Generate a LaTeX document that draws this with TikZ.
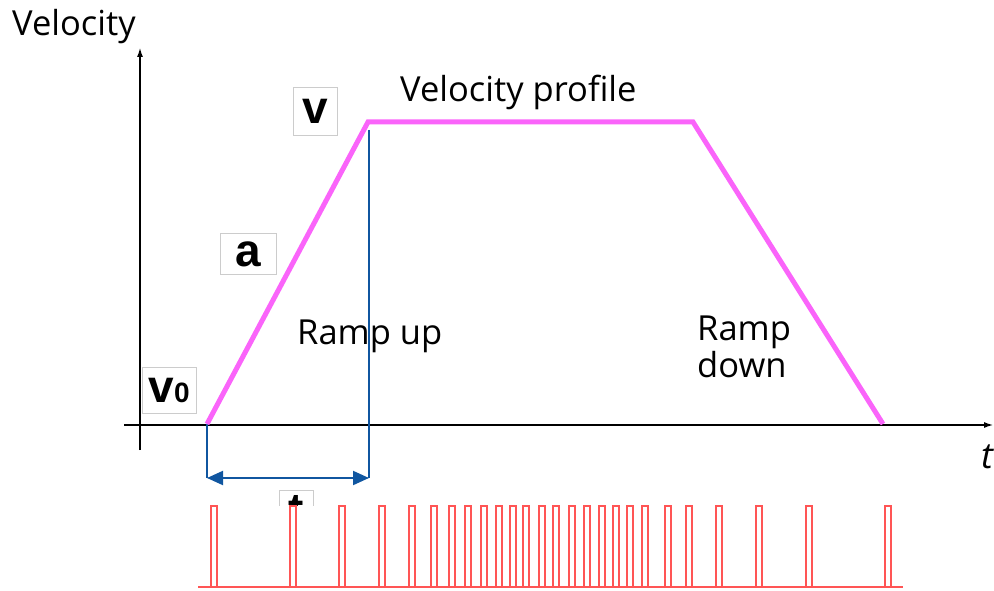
\documentclass[tikz,border=0pt]{standalone}
\usepackage{fontspec}
\setmainfont{Open Sans}
\newfontfamily\boxfont{Liberation Sans}
\usetikzlibrary{arrows.meta,positioning}
\definecolor{profilecolor}{RGB}{250,100,250}
\definecolor{rampblue}{RGB}{16,86,160}
\definecolor{pulsered}{RGB}{255,85,85}
\tikzset{
  axisline/.style={line width=2pt,-{Latex[length=10pt,width=6pt]}},
  valbox/.style={draw=black!20,fill=white,line width=0.8pt,inner sep=0pt,font=\boxfont\bfseries\fontsize{46}{46}\selectfont},
  lbl/.style={font=\fontsize{34.5}{34.5}\selectfont,inner sep=0pt,anchor=base west},
  pulse/.style={pulsered,line width=1.5pt},
}

\begin{document}
\begin{tikzpicture}[x=1pt,y=-1pt]
\useasboundingbox (0,0) rectangle (994,591);

\coordinate (ybottom) at (140,450);
\coordinate (ytop) at (140,47);
\coordinate (xleft) at (124,425);
\coordinate (xright) at (994,425);
\draw[axisline] (ybottom) -- (ytop);
\draw[axisline] (xleft) -- (xright);

\coordinate (upstart) at (207,424);
\coordinate (upend) at (368,122);
\coordinate (downstart) at (693,122);
\coordinate (downend) at (883,424);
\coordinate (upmark) at (369,130);
\coordinate (arrowleft) at (207,478);
\coordinate (arrowright) at (369,478);

\draw[rampblue,line width=1.3pt] (upmark) -- (arrowright);
\draw[rampblue,line width=2pt] (upstart) -- (arrowleft);
\draw[rampblue,line width=2pt,{Triangle[length=16pt,width=14pt]}-{Triangle[length=16pt,width=14pt]}] (arrowleft) -- (arrowright);
\draw[profilecolor,line width=5pt] (upstart) -- (upend) -- (downstart) -- (downend);

\node[lbl] (velocity) at (12,36) {Velocity};
\node[lbl] (profile) at (400,102) {Velocity profile};
\node[lbl] (rampup) at (297,344) {Ramp up};
\node[lbl,align=left] (rampdown) at (697,377) {Ramp\\[2pt]down};
\node[lbl,font=\fontsize{36}{36}\selectfont\itshape] (taxis) at (981,468) {t};

\node[valbox,minimum width=44pt,minimum height=48pt] (vbox) at (315,111) {v};
\node[valbox,minimum width=56pt,minimum height=41pt] (abox) at (248,254) {a};
\node[valbox,minimum width=54pt,minimum height=46pt] (vzero) at (169,390) {v{\fontsize{28}{28}\selectfont 0}};
\begin{scope}
\clip (270,480) rectangle (320,505);
\node[valbox,minimum width=34pt,minimum height=40pt,anchor=north] (tbox) at (296,490) {t};
\end{scope}

\draw[pulse] (198,587) -- (903,587);
\draw[pulse] (211,587) -- (211,506) -- (217,506) -- (217,587);
\draw[pulse] (290,587) -- (290,506) -- (296,506) -- (296,587);
\draw[pulse] (339,587) -- (339,506) -- (345,506) -- (345,587);
\draw[pulse] (379,587) -- (379,506) -- (385,506) -- (385,587);
\draw[pulse] (409,587) -- (409,506) -- (415,506) -- (415,587);
\draw[pulse] (431,587) -- (431,506) -- (437,506) -- (437,587);
\draw[pulse] (449,587) -- (449,506) -- (455,506) -- (455,587);
\draw[pulse] (465,587) -- (465,506) -- (471,506) -- (471,587);
\draw[pulse] (481,587) -- (481,506) -- (487,506) -- (487,587);
\draw[pulse] (496,587) -- (496,506) -- (502,506) -- (502,587);
\draw[pulse] (510,587) -- (510,506) -- (516,506) -- (516,587);
\draw[pulse] (523,587) -- (523,506) -- (529,506) -- (529,587);
\draw[pulse] (539,587) -- (539,506) -- (545,506) -- (545,587);
\draw[pulse] (553,587) -- (553,506) -- (559,506) -- (559,587);
\draw[pulse] (569,587) -- (569,506) -- (575,506) -- (575,587);
\draw[pulse] (584,587) -- (584,506) -- (590,506) -- (590,587);
\draw[pulse] (599,587) -- (599,506) -- (605,506) -- (605,587);
\draw[pulse] (613,587) -- (613,506) -- (619,506) -- (619,587);
\draw[pulse] (627,587) -- (627,506) -- (633,506) -- (633,587);
\draw[pulse] (642,587) -- (642,506) -- (648,506) -- (648,587);
\draw[pulse] (665,587) -- (665,506) -- (671,506) -- (671,587);
\draw[pulse] (686,587) -- (686,506) -- (692,506) -- (692,587);
\draw[pulse] (716,587) -- (716,506) -- (722,506) -- (722,587);
\draw[pulse] (756,587) -- (756,506) -- (762,506) -- (762,587);
\draw[pulse] (806,587) -- (806,506) -- (812,506) -- (812,587);
\draw[pulse] (885,587) -- (885,506) -- (891,506) -- (891,587);
\end{tikzpicture}
\end{document}
